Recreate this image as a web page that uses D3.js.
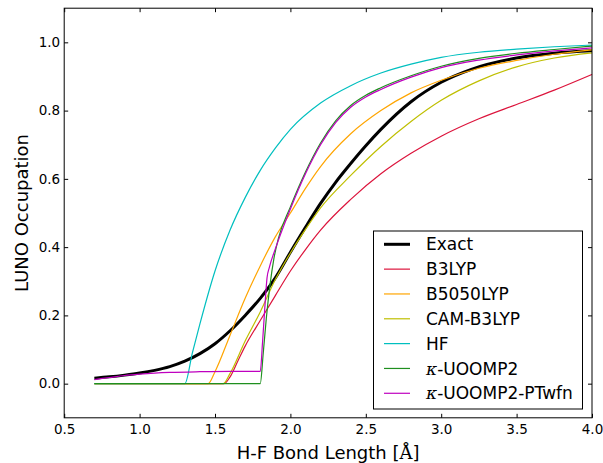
<!DOCTYPE html>
<html>
<head>
<meta charset="utf-8">
<script src="https://cdn.jsdelivr.net/npm/d3@7"></script>
<style>
  html, body { margin: 0; padding: 0; background: #fff; }
  svg { display: block; }
  text { font-family: "DejaVu Sans", sans-serif; fill: #000; }
</style>
</head>
<body>
<svg id="chart" width="603" height="463"></svg>
<script>
// ---------------- data ----------------
const xTicks = [0.5, 1.0, 1.5, 2.0, 2.5, 3.0, 3.5, 4.0];
const yTicks = [0.0, 0.2, 0.4, 0.6, 0.8, 1.0];

const seriesNames = ["Exact", "B3LYP", "B5050LYP", "CAM-B3LYP", "HF", "κ-UOOMP2", "κ-UOOMP2-PTwfn"];
const seriesColors = ["#000000", "#dc143c", "#ffa500", "#bfbf00", "#00bfbf", "#1f8f1f", "#bf00bf"];

const exactX = [0.7,0.8,0.9,1.0,1.1,1.2,1.3,1.4,1.5,1.6,1.7,1.8,1.9,2.0,2.1,2.2,2.3,2.4,2.5,2.6,2.8,3.0,3.2,3.5,3.75,4.0];
const exactY = [0.016,0.02,0.025,0.031,0.039,0.05,0.066,0.088,0.117,0.155,0.2,0.25,0.31,0.385,0.458,0.528,0.59,0.645,0.697,0.745,0.826,0.883,0.921,0.954,0.968,0.975];

const b3lypX = [0.7,1.56,1.6,1.65,1.7,1.8,1.9,2.0,2.1,2.2,2.4,2.6,2.8,3.0,3.25,3.5,3.75,4.0];
const b3lypY = [0,0,0.02,0.065,0.11,0.185,0.258,0.33,0.393,0.45,0.54,0.615,0.675,0.725,0.776,0.818,0.86,0.906];

const b5050X = [0.7,1.455,1.5,1.6,1.7,1.8,1.9,2.0,2.1,2.2,2.4,2.6,2.8,3.0,3.25,3.5,3.75,4.0];
const b5050Y = [0,0,0.035,0.142,0.25,0.345,0.43,0.5,0.572,0.636,0.732,0.8,0.852,0.889,0.924,0.947,0.965,0.978];

const camX = [0.7,1.555,1.6,1.7,1.8,1.9,2.0,2.1,2.2,2.4,2.6,2.8,3.0,3.25,3.5,3.75,4.0];
const camY = [0,0,0.03,0.125,0.21,0.305,0.383,0.452,0.515,0.61,0.695,0.768,0.83,0.887,0.928,0.954,0.969];

const hfX = [0.7,1.3,1.35,1.4,1.5,1.6,1.7,1.8,1.9,2.0,2.2,2.4,2.6,2.8,3.0,3.25,3.5,3.75,4.0];
const hfY = [0,0,0.09,0.175,0.33,0.45,0.545,0.625,0.69,0.745,0.822,0.873,0.91,0.936,0.956,0.971,0.98,0.987,0.992];

const uoompX = [0.7,1.8,1.82,1.84,1.865,1.89,1.92,2.0,2.1,2.2,2.3,2.4,2.5,2.6,2.8,3.0,3.25,3.5,3.75,4.0];
const uoompY = [0,0,0.09,0.19,0.29,0.365,0.425,0.518,0.62,0.705,0.77,0.815,0.845,0.867,0.902,0.93,0.953,0.968,0.979,0.989];

const ptwfnX = [0.7,0.8,0.9,1.0,1.1,1.2,1.4,1.6,1.8,1.815,1.83,1.845,1.86,1.9,2.0,2.1,2.2,2.3,2.4,2.5,2.6,2.8,3.0,3.25,3.5,3.75,4.0];
const ptwfnY = [0.012,0.018,0.024,0.028,0.031,0.033,0.035,0.036,0.036,0.12,0.22,0.31,0.34,0.395,0.512,0.615,0.7,0.765,0.81,0.84,0.862,0.898,0.926,0.948,0.963,0.975,0.984];

const seriesX = [exactX, b3lypX, b5050X, camX, hfX, uoompX, ptwfnX];
const seriesY = [exactY, b3lypY, b5050Y, camY, hfY, uoompY, ptwfnY];
const seriesWidth = [3, 1.2, 1.2, 1.2, 1.2, 1.2, 1.2];

// ---------------- layout ----------------
const L = 64.2, R = 592, T = 8.2, B = 417.8;
const svg = d3.select("#chart");
const x = d3.scaleLinear().domain([0.5, 4.0]).range([L, R]);
const y = d3.scaleLinear().domain([-0.1, 1.1]).range([B, T]);
const fmt = d3.format(".1f");

// lines
const line = d3.line().x(d => x(d[0])).y(d => y(d[1])).curve(d3.curveMonotoneX);
const g = svg.append("g");
seriesNames.forEach((name, i) => {
  const pts = seriesX[i].map((v, j) => [v, seriesY[i][j]]);
  g.append("path")
    .datum(pts)
    .attr("d", line)
    .attr("fill", "none")
    .attr("stroke", seriesColors[i])
    .attr("stroke-width", seriesWidth[i])
    .attr("stroke-linejoin", "round");
});

// axes (ticks inward on all sides)
const tickFont = "13.5px";
const axB = svg.append("g").attr("transform", `translate(0,${B})`)
  .call(d3.axisBottom(x).tickValues(xTicks).tickFormat(fmt).tickSizeInner(-4).tickSizeOuter(0).tickPadding(7));
const axL = svg.append("g").attr("transform", `translate(${L},0)`)
  .call(d3.axisLeft(y).tickValues(yTicks).tickFormat(fmt).tickSizeInner(-4).tickSizeOuter(0).tickPadding(4));
const axT = svg.append("g").attr("transform", `translate(0,${T})`)
  .call(d3.axisTop(x).tickValues(xTicks).tickFormat("").tickSizeInner(-4).tickSizeOuter(0));
const axR = svg.append("g").attr("transform", `translate(${R},0)`)
  .call(d3.axisRight(y).tickValues(yTicks).tickFormat("").tickSizeInner(-4).tickSizeOuter(0));
[axB, axL, axT, axR].forEach(a => {
  a.select(".domain").remove();
  a.selectAll("line").attr("stroke", "#000").attr("stroke-width", 1);
  a.selectAll("text").style("font-family", "DejaVu Sans").style("font-size", tickFont).attr("fill", "#000");
});

// frame
svg.append("rect")
  .attr("x", L).attr("y", T).attr("width", R - L).attr("height", B - T)
  .attr("fill", "none").attr("stroke", "#000").attr("stroke-width", 1);

// axis labels
const xl = svg.append("text")
  .attr("x", (L + R) / 2).attr("y", 459)
  .attr("text-anchor", "middle").style("font-size", "18px");
xl.append("tspan").text("H-F Bond Length [");
xl.append("tspan").style("font-family", "DejaVu Serif").text("Å");
xl.append("tspan").text("]");

svg.append("text")
  .attr("transform", `translate(28,${(T + B) / 2}) rotate(-90)`)
  .attr("text-anchor", "middle").style("font-size", "18px")
  .text("LUNO Occupation");

// legend
const lg = svg.append("g");
lg.append("rect")
  .attr("x", 373.5).attr("y", 231).attr("width", 209).attr("height", 178)
  .attr("fill", "#fff").attr("stroke", "#000").attr("stroke-width", 1);
seriesNames.forEach((name, i) => {
  const yy = 244.3 + i * 24.83;
  lg.append("line")
    .attr("x1", 384).attr("x2", 410).attr("y1", yy).attr("y2", yy)
    .attr("stroke", seriesColors[i]).attr("stroke-width", seriesWidth[i]);
  const t = lg.append("text")
    .attr("x", 426).attr("y", yy).attr("dy", "0.36em")
    .style("font-size", "17px");
  if (name.startsWith("κ")) {
    t.append("tspan").style("font-family", "DejaVu Serif").style("font-style", "italic").text("κ");
    t.append("tspan").text(name.slice(1));
  } else {
    t.text(name);
  }
});
</script>
</body>
</html>
